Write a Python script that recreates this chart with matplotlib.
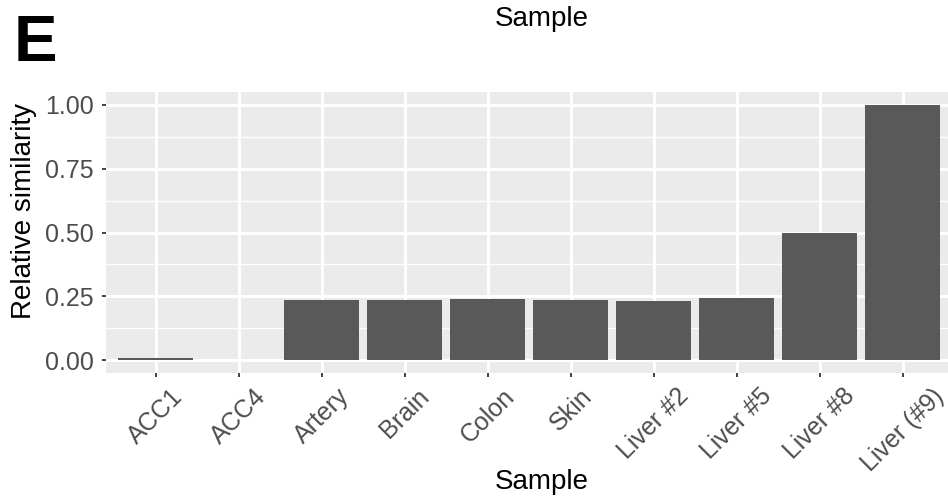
"""
Relative similarity per sample (panel E).
"""
import matplotlib
matplotlib.use('Agg')
import matplotlib.pyplot as plt
import numpy as np

samples = ['ACC1', 'ACC4', 'Artery', 'Brain', 'Colon', 'Skin',
           'Liver #2', 'Liver #5', 'Liver #8', 'Liver (#9)']
similarity = [0.010, 0.001, 0.234, 0.234, 0.238, 0.234, 0.230, 0.242, 0.500, 1.000]
y_ticks = [0.00, 0.25, 0.50, 0.75, 1.00]
y_minor = [0.125, 0.375, 0.625, 0.875]

plt.rcParams['font.family'] = ['Liberation Sans', 'DejaVu Sans']

W, H = 948, 499
fig = plt.figure(figsize=(W / 100, H / 100), dpi=100)

# panel runs slightly past the right edge (cropped figure)
left, right, top, bottom = 106, 952.5, 92, 373
ax = fig.add_axes([left / W, 1 - bottom / H, (right - left) / W, (bottom - top) / H])
ax.set_facecolor('#EBEBEB')

x = np.arange(1, len(samples) + 1)
ax.bar(x, similarity, width=0.9, color='#595959', zorder=3)

ax.set_xlim(0.4, len(samples) + 0.6)
ax.set_ylim(-0.05, 1.05)

# rotated labels are centred under the tick, top of their box level
ax.set_xticks(x)
ax.set_xticklabels(samples, rotation=45, ha='center', va='top',
                   fontsize=18, color='#4D4D4D')
ax.set_yticks(y_ticks)
ax.set_yticklabels([f'{v:.2f}' for v in y_ticks], fontsize=18, color='#4D4D4D')
ax.set_yticks(y_minor, minor=True)

ax.grid(True, which='major', color='white', linewidth=2.1, zorder=0)
ax.grid(True, which='minor', axis='y', color='white', linewidth=1.0, zorder=0)
ax.set_axisbelow(True)
ax.tick_params(axis='both', which='major', length=3, width=1.3, color='#333333')
ax.tick_params(axis='x', which='major', pad=5)
ax.tick_params(axis='y', which='major', pad=6)
ax.tick_params(axis='y', which='minor', length=0)
for s in ax.spines.values():
    s.set_visible(False)

# axis titles and leftover title of the figure above, placed where they sit in the crop
fig.text(24 / W, 1 - 211 / H, 'Relative similarity', fontsize=20, rotation=90,
         ha='center', va='center')
fig.text(542 / W, 1 - 489 / H, 'Sample', fontsize=20, ha='center', va='baseline')
fig.text(542 / W, 1 - 26 / H, 'Sample', fontsize=20, ha='center', va='baseline')
fig.text(14 / W, 1 - 61 / H, 'E', fontsize=47, fontweight='bold', ha='left', va='baseline')

fig.savefig('out.png', dpi=100)
